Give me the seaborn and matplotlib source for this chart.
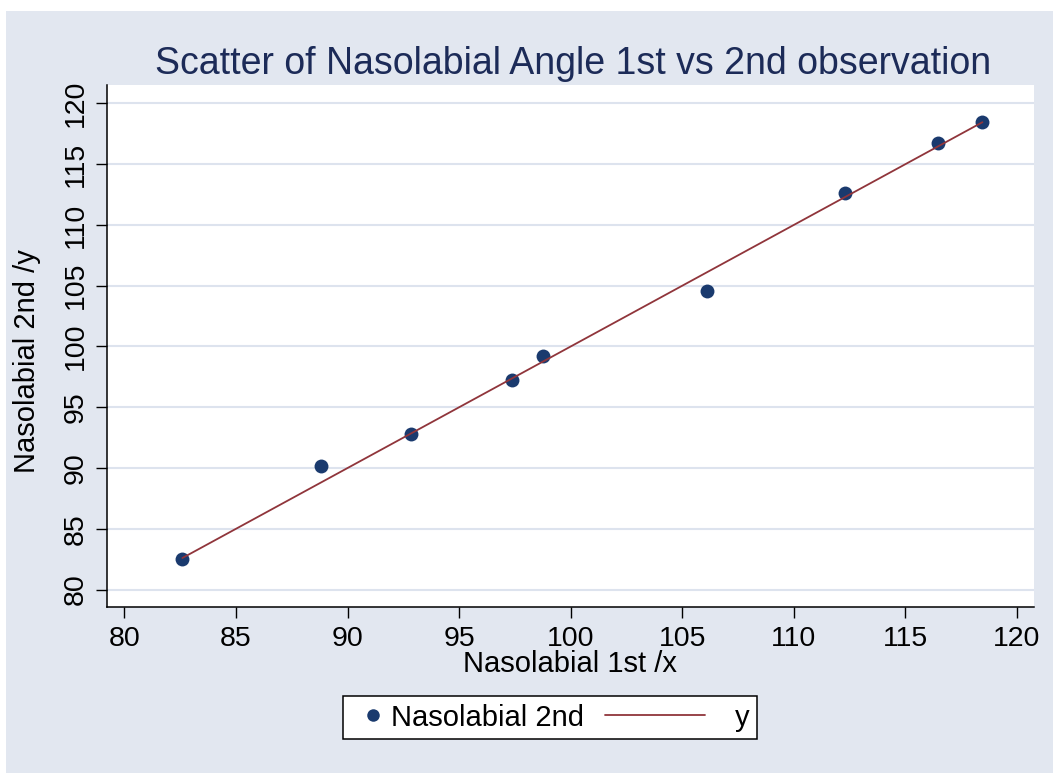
import numpy as np
import pandas as pd
import matplotlib
matplotlib.use("Agg")
import matplotlib.pyplot as plt
from matplotlib.lines import Line2D
from matplotlib.patches import Rectangle
from matplotlib.legend_handler import HandlerLine2D
import seaborn as sns

# ---- data ----
nasolabial_1st = [82.6, 88.8, 92.85, 97.35, 98.75, 106.1, 112.3, 116.45, 118.45]
nasolabial_2nd = [82.5, 90.15, 92.8, 97.25, 99.2, 104.55, 112.6, 116.7, 118.5]
line_y = nasolabial_1st  # y = x reference line
x_ticks = [80, 85, 90, 95, 100, 105, 110, 115, 120]
y_ticks = [80, 85, 90, 95, 100, 105, 110, 115, 120]
title = "Scatter of Nasolabial Angle 1st vs 2nd observation"
x_label = "Nasolabial 1st /x"
y_label = "Nasolabial 2nd /y"
legend_labels = ["Nasolabial 2nd", "y"]

df = pd.DataFrame({"x": nasolabial_1st, "y": nasolabial_2nd, "line": line_y})

# ---- style ----
sns.set_theme(style="white")
plt.rcParams["font.family"] = ["Liberation Sans", "DejaVu Sans"]
plt.rcParams["text.color"] = "black"
plt.rcParams["axes.labelcolor"] = "black"

BG = "#e2e7f0"
GRID = "#dde3ee"
NAVY = "#1a3a6e"
MAROON = "#90353b"
TITLE_C = "#1c2b58"

W, H = 1053, 773
fig = plt.figure(figsize=(W / 100, H / 100), dpi=100)
fig.patch.set_facecolor("white")
fig.patches.append(Rectangle((6 / W, 0), 1 - 6 / W, 1 - 11 / H,
                             transform=fig.transFigure, facecolor=BG,
                             edgecolor="none", zorder=-10))

ax_l, ax_r, ax_t, ax_b = 106.7, 1034, 85, 607
ax = fig.add_axes([ax_l / W, 1 - ax_b / H, (ax_r - ax_l) / W, (ax_b - ax_t) / H])
ax.set_facecolor("white")

sns.scatterplot(data=df, x="x", y="y", ax=ax, s=100, color=NAVY,
                linewidth=0, zorder=3, legend=False)
sns.lineplot(data=df, x="x", y="line", ax=ax, color=MAROON, lw=1.3,
             zorder=4, legend=False)

ax.set_xlim(79.21, 120.76)
ax.set_ylim(78.57, 121.51)
ax.set_xticks(x_ticks)
ax.set_yticks(y_ticks)
ax.set_xticklabels([str(v) for v in x_ticks])
ax.set_yticklabels([str(v) for v in y_ticks], rotation=90, va="center")

ax.yaxis.grid(True, color=GRID, lw=1.5, zorder=0)
ax.xaxis.grid(False)
ax.set_axisbelow(True)

for s in ["top", "right"]:
    ax.spines[s].set_visible(False)
for s in ["left", "bottom"]:
    ax.spines[s].set_color("black")
    ax.spines[s].set_linewidth(1.1)

ax.tick_params(axis="both", which="major", direction="out", length=8,
               width=1.0, color="black", labelsize=20.5, labelcolor="black",
               bottom=True, left=True)
ax.tick_params(axis="x", pad=6)
ax.tick_params(axis="y", pad=5)

ax.set_xlabel(x_label, fontsize=21, color="black")
ax.set_ylabel(y_label, fontsize=21, color="black")
ax.xaxis.set_label_coords(0.5, -0.083)
ax.yaxis.set_label_coords(-0.071, 0.471)

ax.text(0.503, 1.021, title, transform=ax.transAxes, ha="center",
        va="baseline", fontsize=27, color=TITLE_C)


# ---- legend ----
class KeyHandler(HandlerLine2D):
    def __init__(self, span, **kw):
        super().__init__(**kw)
        self.span = span

    def get_xdata(self, legend, xdescent, ydescent, width, height, fontsize):
        x0, x1 = self.span
        xd = np.array([x0, x1]) - xdescent
        return xd, xd


fs = 21
handle_w = 1.0 * fs
marker_c = handle_w / 2 + 5.5
line_end = handle_w - 13.2
h_marker = Line2D([], [], marker="o", linestyle="none", color=NAVY,
                  markersize=9, markeredgewidth=0)
h_line = Line2D([], [], color=MAROON, lw=1.3)
leg = fig.legend([h_marker, h_line], legend_labels, loc="center left",
                 bbox_to_anchor=(343 / W, 1 - 717.5 / H), ncol=2,
                 fontsize=fs, frameon=True, fancybox=False, shadow=False,
                 edgecolor="black", facecolor="white", framealpha=1,
                 borderpad=0.26, borderaxespad=0, handlelength=1.0,
                 handletextpad=0.4, columnspacing=3.75, numpoints=1,
                 handler_map={h_marker: KeyHandler((marker_c - 1, marker_c + 1)),
                              h_line: KeyHandler((line_end - 72, line_end))})
leg.get_frame().set_linewidth(1.1)
for t in leg.get_texts():
    t.set_color("black")

fig.savefig("out.png", dpi=100, facecolor=fig.get_facecolor())
